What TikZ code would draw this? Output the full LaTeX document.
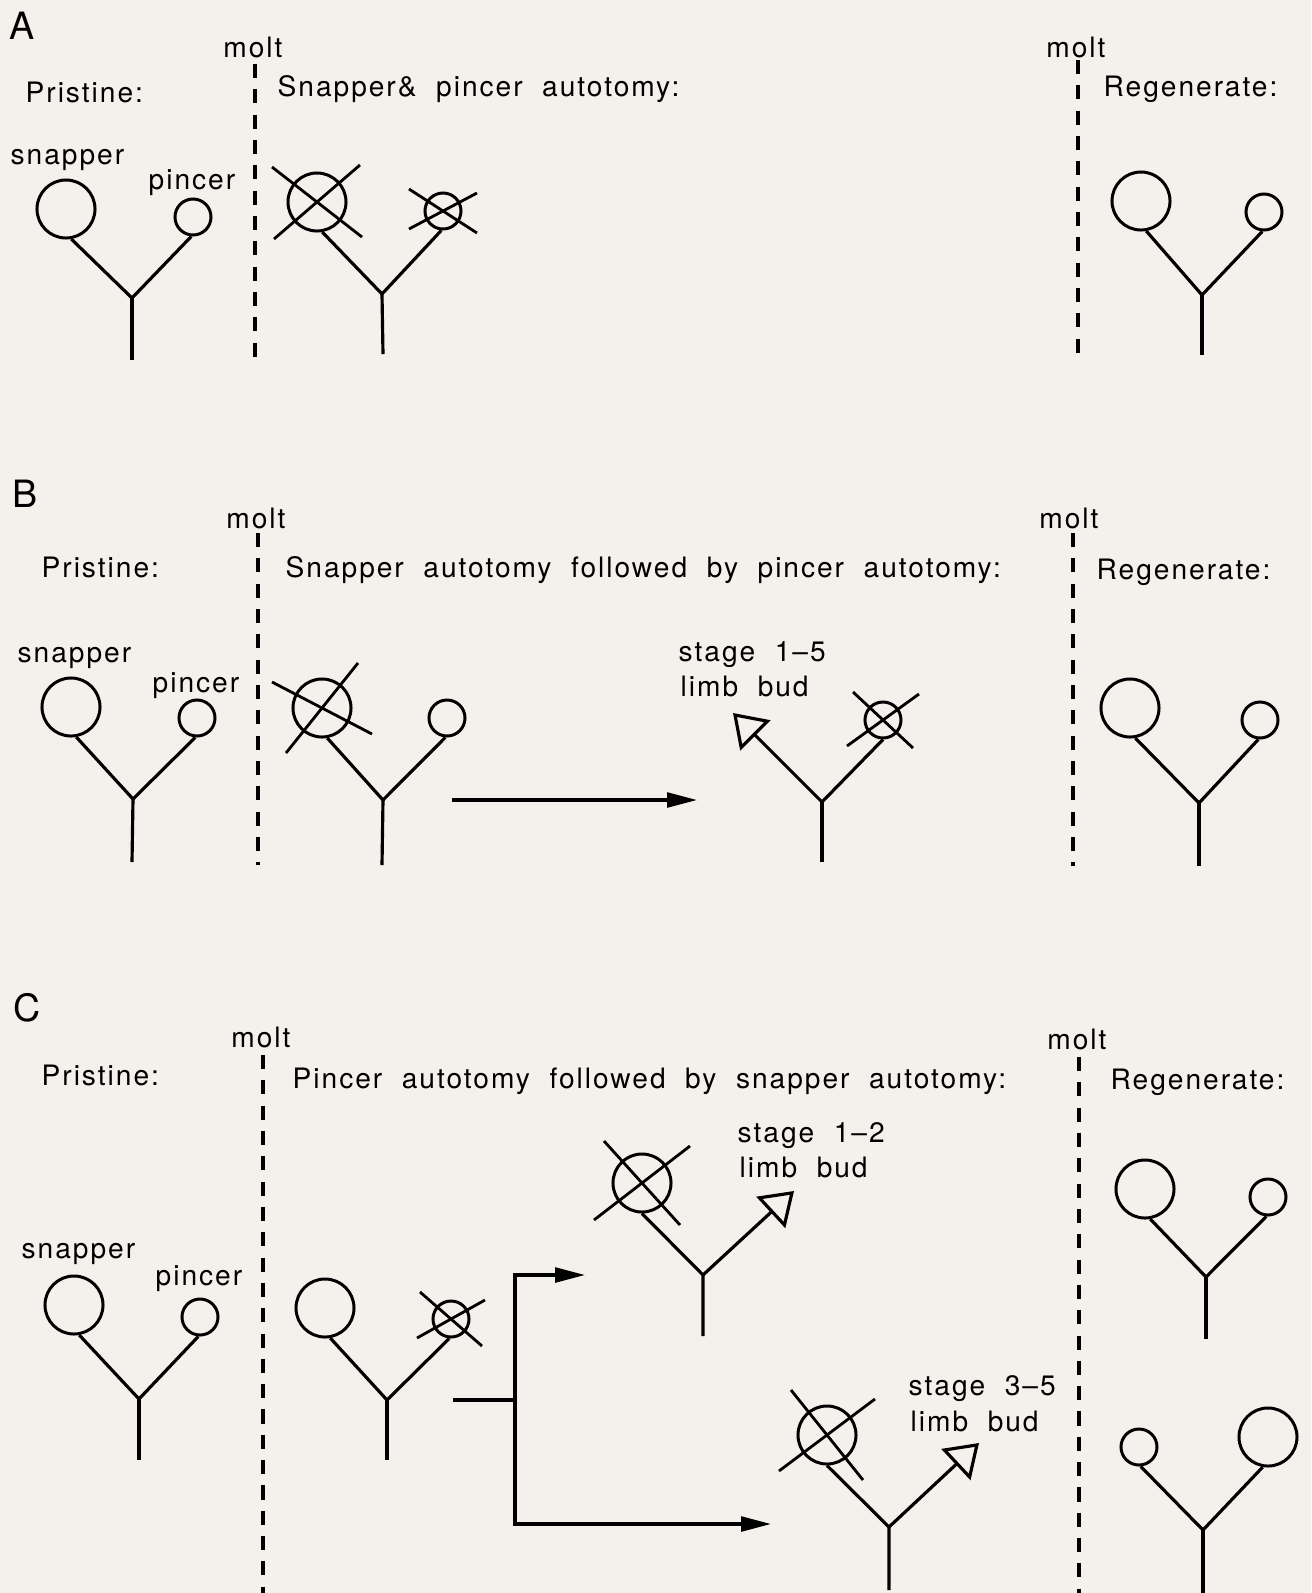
\documentclass[tikz,border=0pt]{standalone}
\usepackage{fontspec}
\setmainfont{TeX Gyre Heros}[LetterSpace=7, WordSpace=2.0]
\usepackage{tikz}
\usetikzlibrary{arrows.meta, calc}
\definecolor{paper}{HTML}{F4F1EC}

\begin{document}
\begin{tikzpicture}[
  x=0.01cm, y=-0.01cm,
  txt/.style={anchor=base west, inner sep=0pt, font=\fontsize{8}{9.6}\selectfont},
  panel/.style={anchor=base west, inner sep=0pt, font=\fontsize{10.7}{12}\selectfont},
  bigclaw/.style={circle, draw, line width=0.85pt, inner sep=0pt, minimum size=0.58cm},
  smallclaw/.style={circle, draw, line width=0.85pt, inner sep=0pt, minimum size=0.36cm},
  limb/.style={line width=0.9pt},
  cut/.style={line width=0.8pt},
  moltline/.style={line width=0.9pt, dash pattern=on 4pt off 3.2pt},
  arrow/.style={-{Triangle[length=8.5pt, width=4.2pt]}, line width=0.9pt},
  bud/.style={-{Triangle[open, length=9pt, width=12pt]}, line width=0.9pt}
]
\fill[paper] (0,0) rectangle (1311,1593);
\useasboundingbox (0,0) rectangle (1311,1593);

% Molt lines
\foreach \nm/\x/\ya/\yb/\xl/\yl in {am/255/64/358/253/57, an/1078/60/357/1076/57,
    bm/258/533/865/256/528, bn/1073/533/866/1069/528,
    cm/263/1055/1593/261/1047, cn/1079/1057/1593/1077/1049} {
  \coordinate (\nm top) at (\x,\ya);
  \coordinate (\nm bot) at (\x,\yb);
  \draw[moltline] (\nm top) -- (\nm bot);
  \node[txt, anchor=base] (\nm lbl) at (\xl,\yl) {molt};
}

% Panel A
\node[panel] (la) at (9,39) {A};
\node[txt] (apri) at (25,102) {Pristine:};
\node[txt] (atitle) at (277,96) {Snapper\& pincer autotomy:};
\node[txt] (aregen) at (1103,96) {Regenerate:};
\node[txt] (asnap) at (10,164) {snapper};
\node[txt] (apin) at (148,189) {pincer};

\node[bigclaw] (a1big) at (66,209) {};
\node[smallclaw] (a1pin) at (193,217) {};
\coordinate (a1j) at (132,298);
\coordinate (a1s) at (132,360);
\draw[limb] (a1big.-80) -- (a1j) -- (a1pin.-95);
\draw[limb] (a1j) -- (a1s);

\node[bigclaw] (a2big) at (317,202) {};
\node[smallclaw] (a2pin) at (443,211) {};
\coordinate (a2j) at (382,294);
\coordinate (a2s) at (383,354);
\draw[limb] (a2big.-80) -- (a2j) -- (a2pin.-95);
\draw[limb] (a2j) -- (a2s);
\draw[cut] ($(a2big)+(-45,-35)$) -- ($(a2big)+(45,35)$);
\draw[cut] ($(a2big)+(-43,37)$) -- ($(a2big)+(43,-37)$);
\draw[cut] ($(a2pin)+(-34,-22)$) -- ($(a2pin)+(34,22)$);
\draw[cut] ($(a2pin)+(-34,18)$) -- ($(a2pin)+(34,-18)$);

\node[bigclaw] (a3big) at (1141,201) {};
\node[smallclaw] (a3pin) at (1264,212) {};
\coordinate (a3j) at (1202,295);
\coordinate (a3s) at (1202,355);
\draw[limb] (a3big.-80) -- (a3j) -- (a3pin.-95);
\draw[limb] (a3j) -- (a3s);

% Panel B
\node[panel] (lb) at (12,507) {B};
\node[txt] (bpri) at (41,577) {Pristine:};
\node[txt] (btitle) at (285,577) {Snapper autotomy followed by pincer autotomy:};
\node[txt] (bregen) at (1096,579) {Regenerate:};
\node[txt] (bsnap) at (17,662) {snapper};
\node[txt] (bpin) at (152,692) {pincer};

\node[bigclaw] (b1big) at (71,707) {};
\node[smallclaw] (b1pin) at (197,718) {};
\coordinate (b1j) at (133,799);
\coordinate (b1s) at (132,862);
\draw[limb] (b1big.-80) -- (b1j) -- (b1pin.-95);
\draw[limb] (b1j) -- (b1s);

\node[bigclaw] (b2big) at (322,708) {};
\node[smallclaw] (b2pin) at (447,718) {};
\coordinate (b2j) at (383,800);
\coordinate (b2s) at (382,865);
\draw[limb] (b2big.-80) -- (b2j) -- (b2pin.-95);
\draw[limb] (b2j) -- (b2s);
\draw[cut] ($(b2big)+(-50,-26)$) -- ($(b2big)+(50,26)$);
\draw[cut] ($(b2big)+(-36,45)$) -- ($(b2big)+(36,-45)$);

\coordinate (bgo) at (452,800);
\coordinate (bto) at (697,800);
\draw[arrow] (bgo) -- (bto);

\node[smallclaw] (b3pin) at (883,720) {};
\coordinate (b3j) at (822,802);
\coordinate (b3s) at (822,862);
\coordinate (b3bud) at (733,713);
\draw[bud] (b3j) -- (b3bud);
\draw[limb] (b3j) -- (b3pin.south);
\draw[limb] (b3j) -- (b3s);
\draw[cut] ($(b3pin)+(-30,-28)$) -- ($(b3pin)+(30,28)$);
\draw[cut] ($(b3pin)+(-36,26)$) -- ($(b3pin)+(36,-26)$);
\node[txt] (bstage) at (678,661) {stage 1--5};
\node[txt] (bbud) at (680,696) {limb bud};

\node[bigclaw] (b4big) at (1130,708) {};
\node[smallclaw] (b4pin) at (1260,720) {};
\coordinate (b4j) at (1199,803);
\coordinate (b4s) at (1199,866);
\draw[limb] (b4big.-80) -- (b4j) -- (b4pin.-95);
\draw[limb] (b4j) -- (b4s);

% Panel C
\node[panel] (lc) at (13,1021) {C};
\node[txt] (cpri) at (41,1085) {Pristine:};
\node[txt] (ctitle) at (292,1088) {Pincer autotomy followed by snapper autotomy:};
\node[txt] (cregen) at (1110,1089) {Regenerate:};
\node[txt] (csnap) at (21,1258) {snapper};
\node[txt] (cpin) at (155,1285) {pincer};

\node[bigclaw] (c1big) at (74,1305) {};
\node[smallclaw] (c1pin) at (200,1317) {};
\coordinate (c1j) at (139,1399);
\coordinate (c1s) at (139,1460);
\draw[limb] (c1big.-80) -- (c1j) -- (c1pin.-95);
\draw[limb] (c1j) -- (c1s);

\node[bigclaw] (c2big) at (325,1308) {};
\node[smallclaw] (c2pin) at (451,1319) {};
\coordinate (c2j) at (387,1400);
\coordinate (c2s) at (387,1460);
\draw[limb] (c2big.-80) -- (c2j) -- (c2pin.-95);
\draw[limb] (c2j) -- (c2s);
\draw[cut] ($(c2pin)+(-31,-27)$) -- ($(c2pin)+(31,27)$);
\draw[cut] ($(c2pin)+(-34,19)$) -- ($(c2pin)+(34,-19)$);

% Fork
\coordinate (cgo) at (453,1400);
\coordinate (cfork) at (515,1400);
\coordinate (ctop) at (585,1275);
\coordinate (cbot) at (771,1524);
\draw[limb] (cgo) -- (cfork);
\draw[arrow] (cfork) |- (ctop);
\draw[arrow] (cfork) |- (cbot);

\node[bigclaw] (c3big) at (642,1183) {};
\coordinate (c3j) at (703,1275);
\coordinate (c3s) at (703,1336);
\coordinate (c3bud) at (794,1191);
\draw[limb] (c3big.south) -- (c3j) -- (c3s);
\draw[bud] (c3j) -- (c3bud);
\draw[cut] ($(c3big)+(-38,-42)$) -- ($(c3big)+(38,42)$);
\draw[cut] ($(c3big)+(-48,37)$) -- ($(c3big)+(48,-37)$);
\node[txt] (cstage1) at (737,1142) {stage 1--2};
\node[txt] (cbud1) at (739,1177) {limb bud};

\node[bigclaw] (c4big) at (827,1435) {};
\coordinate (c4j) at (889,1527);
\coordinate (c4s) at (889,1590);
\coordinate (c4bud) at (979,1443);
\draw[limb] (c4big.south) -- (c4j) -- (c4s);
\draw[bud] (c4j) -- (c4bud);
\draw[cut] ($(c4big)+(-36,-45)$) -- ($(c4big)+(36,45)$);
\draw[cut] ($(c4big)+(-48,36)$) -- ($(c4big)+(48,-36)$);
\node[txt] (cstage2) at (908,1395) {stage 3--5};
\node[txt] (cbud2) at (910,1431) {limb bud};

\node[bigclaw] (c5big) at (1145,1189) {};
\node[smallclaw] (c5pin) at (1268,1197) {};
\coordinate (c5j) at (1206,1277);
\coordinate (c5s) at (1206,1339);
\draw[limb] (c5big.-80) -- (c5j) -- (c5pin.-95);
\draw[limb] (c5j) -- (c5s);

\node[smallclaw] (c6pin) at (1139,1447) {};
\node[bigclaw] (c6big) at (1268,1437) {};
\coordinate (c6j) at (1203,1530);
\coordinate (c6s) at (1203,1593);
\draw[limb] (c6pin.-85) -- (c6j) -- (c6big.-100);
\draw[limb] (c6j) -- (c6s);

\end{tikzpicture}
\end{document}
